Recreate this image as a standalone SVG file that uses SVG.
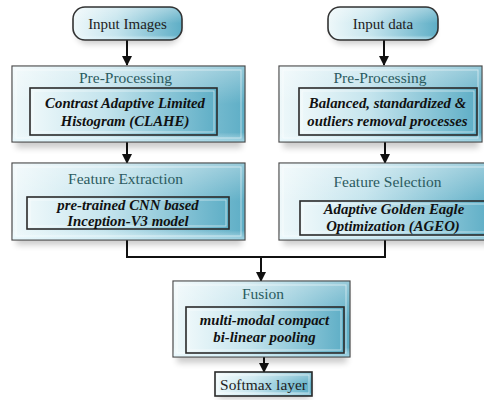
<svg xmlns="http://www.w3.org/2000/svg" width="484" height="400" viewBox="0 0 484 400" font-family="'Liberation Serif', 'Times New Roman', Times, serif">
  <defs>
    <linearGradient id="glass" x1="0" y1="0" x2="1" y2="0">
      <stop offset="0" stop-color="#eef8fa"/>
      <stop offset="0.4" stop-color="#c4e4ed"/>
      <stop offset="1" stop-color="#5eaec6"/>
    </linearGradient>
    <linearGradient id="gloss" x1="0" y1="0" x2="0" y2="1">
      <stop offset="0" stop-color="#ffffff" stop-opacity="0.35"/>
      <stop offset="0.5" stop-color="#ffffff" stop-opacity="0"/>
      <stop offset="0.88" stop-color="#ffffff" stop-opacity="0"/>
      <stop offset="1" stop-color="#dff7ff" stop-opacity="0.5"/>
    </linearGradient>
    <filter id="soft" x="-10%" y="-30%" width="120%" height="160%">
      <feGaussianBlur stdDeviation="3"/>
    </filter>
    <marker id="arrow" viewBox="0 0 10 10" refX="9" refY="5" markerWidth="5" markerHeight="5" orient="auto">
      <path d="M0,0 L10,5 L0,10 z" fill="#111"/>
    </marker>
  </defs>
  <style>
    .shadow { fill: #000; opacity: 0.2; filter: url(#soft); }
    .outer { fill: url(#glass); stroke: #4a4a4a; stroke-width: 1.2; }
    .gloss { fill: url(#gloss); stroke: none; }
    .bevel { fill: none; stroke: #ffffff; stroke-opacity: 0.55; stroke-width: 1; }
    .inner { fill: url(#glass); stroke: #2a2a2a; stroke-width: 1.6; }
    .pill { fill: url(#glass); stroke: #333; stroke-width: 1.6; }
    text { font-family: 'Liberation Serif', 'Times New Roman', Times, serif; text-anchor: middle; }
    .title { font-size: 15.5px; fill: #2b5b60; }
    .label { font-size: 15px; fill: #222; }
    .detail { font-size: 14.8px; font-weight: bold; font-style: italic; fill: #111; }
    .wire { fill: none; stroke: #111; stroke-width: 2; }
  </style>

  <!-- connectors -->
  <g id="connectors">
    <line class="wire" x1="127" y1="40" x2="127" y2="65" marker-end="url(#arrow)"/>
    <line class="wire" x1="384" y1="40" x2="384" y2="65" marker-end="url(#arrow)"/>
    <line class="wire" x1="127" y1="142" x2="127" y2="163" marker-end="url(#arrow)"/>
    <line class="wire" x1="385" y1="142" x2="385" y2="163" marker-end="url(#arrow)"/>
    <polyline class="wire" points="127,240 127,257 385,257 385,240"/>
    <line class="wire" x1="261" y1="256" x2="261" y2="281" marker-end="url(#arrow)"/>
    <line class="wire" x1="264" y1="357" x2="264" y2="372" marker-end="url(#arrow)"/>
  </g>

  <!-- Input Images -->
  <g id="input-images">
    <rect class="shadow" x="76" y="14" width="104" height="30" rx="12"/>
    <rect class="pill" x="73" y="7" width="109" height="33" rx="12"/>
    <rect class="gloss" x="74" y="8" width="107" height="31" rx="11"/>
    <text class="label" x="127.5" y="28.5">Input Images</text>
  </g>

  <!-- Input data -->
  <g id="input-data">
    <rect class="shadow" x="331" y="14" width="104" height="30" rx="12"/>
    <rect class="pill" x="328" y="7" width="110" height="33" rx="12"/>
    <rect class="gloss" x="329" y="8" width="108" height="31" rx="11"/>
    <text class="label" x="383" y="28.5">Input data</text>
  </g>

  <!-- Pre-Processing (images) -->
  <g id="preprocess-images">
    <rect class="shadow" x="16" y="72" width="226" height="76"/>
    <rect class="outer" x="12" y="66" width="233" height="76"/>
    <rect class="gloss" x="12.6" y="66.6" width="231.8" height="74.8"/>
    <rect class="bevel" x="16" y="70" width="225" height="68"/>
    <text class="title" x="125.5" y="82.5">Pre-Processing</text>
    <rect class="inner" x="30" y="88" width="187" height="47"/>
    <rect class="bevel" x="33" y="91" width="181" height="41"/>
    <text class="detail" x="125" y="108">Contrast Adaptive Limited</text>
    <text class="detail" x="125" y="126">Histogram (CLAHE)</text>
  </g>

  <!-- Pre-Processing (data) -->
  <g id="preprocess-data">
    <rect class="shadow" x="283" y="72" width="196" height="76"/>
    <rect class="outer" x="279" y="66" width="203" height="76"/>
    <rect class="gloss" x="279.6" y="66.6" width="201.8" height="74.8"/>
    <rect class="bevel" x="283" y="70" width="195" height="68"/>
    <text class="title" x="380" y="82.5">Pre-Processing</text>
    <rect class="inner" x="299" y="88" width="178" height="47"/>
    <rect class="bevel" x="302" y="91" width="172" height="41"/>
    <text class="detail" x="387.5" y="108">Balanced, standardized &amp;</text>
    <text class="detail" x="387.5" y="126">outliers removal processes</text>
  </g>

  <!-- Feature Extraction -->
  <g id="feature-extraction">
    <rect class="shadow" x="16" y="169" width="226" height="76"/>
    <rect class="outer" x="12" y="163" width="233" height="77"/>
    <rect class="gloss" x="12.6" y="163.6" width="231.8" height="75.8"/>
    <rect class="bevel" x="16" y="167" width="225" height="69"/>
    <text class="title" x="125.5" y="183.5">Feature Extraction</text>
    <rect class="inner" x="27" y="197" width="202" height="32"/>
    <rect class="bevel" x="30" y="200" width="196" height="26"/>
    <text class="detail" x="128" y="209.5">pre-trained CNN based</text>
    <text class="detail" x="128" y="226">Inception-V3 model</text>
  </g>

  <!-- Feature Selection -->
  <g id="feature-selection">
    <rect class="shadow" x="283" y="169" width="210" height="76"/>
    <rect class="outer" x="279" y="163" width="215" height="77"/>
    <rect class="gloss" x="279.6" y="163.6" width="213.8" height="75.8"/>
    <rect class="bevel" x="283" y="167" width="207" height="69"/>
    <text class="title" x="387.5" y="187">Feature Selection</text>
    <rect class="inner" x="300" y="201" width="190" height="34"/>
    <rect class="bevel" x="303" y="204" width="184" height="28"/>
    <text class="detail" x="394" y="214">Adaptive Golden Eagle</text>
    <text class="detail" x="393" y="231">Optimization (AGEO)</text>
  </g>

  <!-- Fusion -->
  <g id="fusion">
    <rect class="shadow" x="177" y="287" width="170" height="76"/>
    <rect class="outer" x="173" y="281" width="177" height="76"/>
    <rect class="gloss" x="173.6" y="281.6" width="175.8" height="74.8"/>
    <rect class="bevel" x="177" y="285" width="169" height="68"/>
    <text class="title" x="263" y="298.5">Fusion</text>
    <rect class="inner" x="186" y="307" width="158" height="46"/>
    <rect class="bevel" x="189" y="310" width="152" height="40"/>
    <text class="detail" x="264.5" y="325">multi-modal compact</text>
    <text class="detail" x="264.5" y="342">bi-linear pooling</text>
  </g>

  <!-- Softmax layer -->
  <g id="softmax">
    <rect class="shadow" x="218" y="377" width="92" height="22"/>
    <rect class="inner" x="215" y="372" width="97" height="24"/>
    <rect class="gloss" x="216" y="373" width="95" height="22"/>
    <rect class="bevel" x="218" y="375" width="91" height="18"/>
    <text class="label" x="263.5" y="390" style="font-size:15.4px">Softmax layer</text>
  </g>
</svg>
